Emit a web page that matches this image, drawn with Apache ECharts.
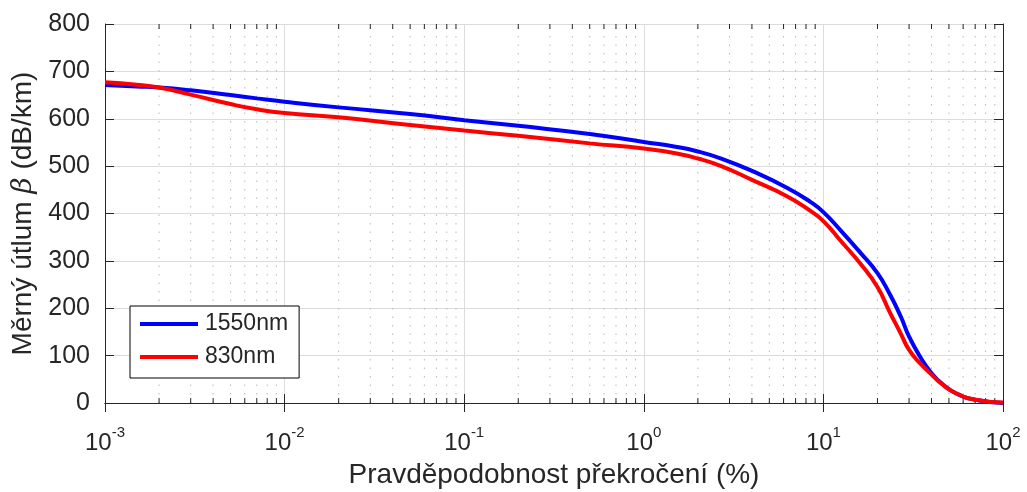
<!DOCTYPE html>
<html>
<head>
<meta charset="utf-8">
<script src="https://cdn.jsdelivr.net/npm/echarts@6/dist/echarts.min.js"></script>
<style>
  html, body { margin: 0; padding: 0; background: #fff; }
  #chart { width: 1027px; height: 492px; }
</style>
</head>
<body>
<div id="chart"></div>
<script>
// exceedance probability (%) on a log axis
const probability = [0.001, 0.0015, 0.002, 0.003, 0.005, 0.007, 0.01, 0.02, 0.05, 0.1, 0.2, 0.5, 1, 1.5, 2, 2.7, 4, 6.3, 8.5, 10, 12.5, 16, 20, 23.4, 27, 30, 34.5, 40, 46, 55, 70, 100];
const att1550 = [671, 668, 666, 660, 650, 643, 636, 624, 610, 597, 585, 568, 551, 541, 531, 516, 490, 454, 424, 403, 364, 318, 274, 230, 182, 140, 98, 63, 40, 20, 7, 0];
const att830 = [677, 672, 666, 651, 631, 620, 612, 603, 587, 575, 564, 548, 537, 527, 516, 500, 471, 436, 405, 384, 342, 295, 245, 192, 146, 112, 84, 60, 39, 20, 7, 1];
const seriesNames = ["1550nm", "830nm"];
const yTicks = [0, 100, 200, 300, 400, 500, 600, 700, 800];

// minor log grid values 2..9 x 10^n
const minorValues = [];
for (let e = -3; e < 2; e++) {
  for (let k = 2; k <= 9; k++) minorValues.push(k * Math.pow(10, e));
}

const pairs = (ys) => probability.map((x, i) => [x, ys[i]]);

const axisColor = "#262626";
const font = "Liberation Sans, Arial, sans-serif";

const chart = echarts.init(document.getElementById("chart"));

const option = {
  animation: false,
  grid: { left: 105, right: 24, top: 24, bottom: 89, outerBoundsMode: "none", containLabel: false },
  xAxis: [
    {
      type: "log",
      logBase: 10,
      min: 0.001,
      max: 100,
      interval: 1,
      name: "Pravděpodobnost překročení (%)",
      nameLocation: "middle",
      nameGap: 58,
      nameTextStyle: { fontFamily: font, fontSize: 28, color: axisColor },
      axisLine: { lineStyle: { color: axisColor, width: 1 } },
      axisTick: { inside: true, length: 9, lineStyle: { color: axisColor } },
      splitLine: { show: true, lineStyle: { color: "#dcdcdc", width: 1 } },
      minorTick: { show: false },
      axisLabel: {
        margin: 22,
        fontFamily: font,
        color: axisColor,
        formatter: (v) => "{b|10}{s|" + Math.round(Math.log10(v)) + "}",
        rich: {
          b: { fontSize: 24, fontFamily: font, color: axisColor, lineHeight: 30, verticalAlign: "bottom" },
          s: { fontSize: 15, fontFamily: font, color: axisColor, lineHeight: 30, verticalAlign: "top" }
        }
      }
    },
    {
      type: "log",
      logBase: 10,
      min: 0.001,
      max: 100,
      interval: 1,
      position: "top",
      axisLine: { lineStyle: { color: axisColor, width: 1 } },
      axisTick: { inside: true, length: 9, lineStyle: { color: axisColor } },
      axisLabel: { show: false },
      splitLine: { show: false }
    }
  ],
  yAxis: [
    {
      type: "value",
      min: 0,
      max: 800,
      interval: 100,
      name: "Měrný útlum {i|β} (dB/km)",
      nameLocation: "middle",
      nameGap: 66,
      nameTextStyle: {
        fontFamily: font, fontSize: 28, color: axisColor,
        rich: { i: { fontFamily: "DejaVu Serif, serif", fontStyle: "italic", fontSize: 28, color: axisColor } }
      },
      axisLine: { show: true, lineStyle: { color: axisColor, width: 1 } },
      axisTick: { show: true, inside: true, length: 9, lineStyle: { color: axisColor } },
      splitLine: { show: true, lineStyle: { color: "#dcdcdc", width: 1 } },
      axisLabel: {
        margin: 15,
        fontFamily: font,
        fontSize: 25,
        color: axisColor,
        formatter: (v) => (yTicks.indexOf(v) >= 0 ? String(v) : "")
      }
    },
    {
      type: "value",
      min: 0,
      max: 800,
      interval: 100,
      position: "right",
      axisLine: { show: true, lineStyle: { color: axisColor, width: 1 } },
      axisTick: { show: true, inside: true, length: 9, lineStyle: { color: axisColor } },
      axisLabel: { show: false },
      splitLine: { show: false }
    }
  ],
  legend: {
    left: 130,
    top: 306,
    orient: "vertical",
    data: seriesNames,
    backgroundColor: "#fff",
    borderColor: "#000",
    borderWidth: 1,
    borderRadius: 0,
    padding: [6, 11, 9, 10],
    itemGap: 9,
    itemWidth: 58,
    itemHeight: 4,
    icon: "rect",
    selectedMode: false,
    textStyle: { fontFamily: font, fontSize: 23, color: axisColor, lineHeight: 24, padding: [0, 0, 0, 2] }
  },
  series: [
    {
      type: "custom",
      silent: true,
      z: 1,
      data: minorValues,
      encode: { x: 0 },
      renderItem: (params, api) => {
        const v = api.value(0);
        const bottom = api.coord([v, 0]);
        const top = api.coord([v, 800]);
        return {
          type: "group",
          children: [
            {
              type: "line",
              shape: { x1: bottom[0], y1: bottom[1], x2: top[0], y2: top[1] },
              style: { stroke: "#b8b8b8", lineWidth: 1, lineDash: [1.5, 7] }
            },
            {
              type: "line",
              shape: { x1: bottom[0], y1: bottom[1], x2: bottom[0], y2: bottom[1] - 5 },
              style: { stroke: axisColor, lineWidth: 1 }
            },
            {
              type: "line",
              shape: { x1: top[0], y1: top[1], x2: top[0], y2: top[1] + 5 },
              style: { stroke: axisColor, lineWidth: 1 }
            }
          ]
        };
      }
    },
    {
      name: seriesNames[0],
      type: "line",
      data: pairs(att1550),
      smooth: 0.5,
      showSymbol: false,
      z: 3,
      color: "#0000ff",
      lineStyle: { color: "#0000ff", width: 4 }
    },
    {
      name: seriesNames[1],
      type: "line",
      data: pairs(att830),
      smooth: 0.5,
      showSymbol: false,
      z: 4,
      color: "#ff0000",
      lineStyle: { color: "#ff0000", width: 4 }
    }
  ]
};

chart.setOption(option);
</script>
</body>
</html>
